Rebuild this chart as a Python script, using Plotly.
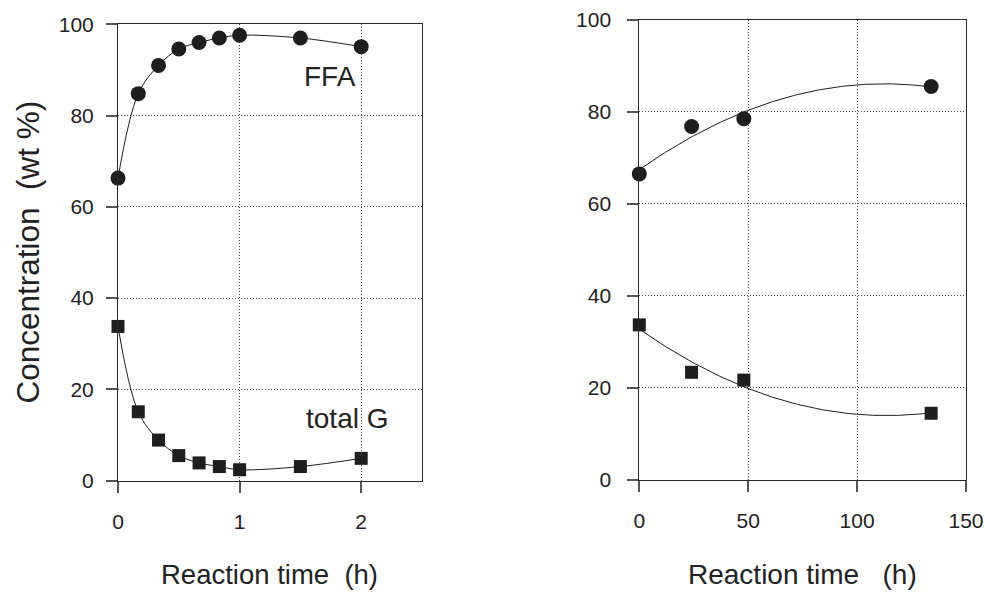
import numpy as np
import plotly.graph_objects as go

# ---- data ----
time_short = [0, 1/6, 1/3, 0.5, 2/3, 5/6, 1.0, 1.5, 2.0]
ffa_short = [66.3, 84.8, 91.0, 94.6, 96.0, 97.0, 97.6, 97.0, 95.1]
totalg_short = [33.8, 15.1, 8.9, 5.5, 3.9, 3.1, 2.4, 3.1, 4.9]

time_long = [0, 24, 48, 134]
ffa_long = [66.5, 76.8, 78.5, 85.5]
totalg_long = [33.7, 23.4, 21.7, 14.5]

x_ticks_short = [0, 1, 2]
x_ticks_long = [0, 50, 100, 150]
y_ticks = [0, 20, 40, 60, 80, 100]

FONT = "Liberation Sans, Arial, Helvetica, sans-serif"
INK = "#1e1e1e"

# quadratic trend lines for the long-time panel (least squares fit of the points)
xs_long = np.linspace(min(time_long), max(time_long), 200)
ffa_fit = np.polyval(np.polyfit(time_long, ffa_long, 2), xs_long)
tg_fit = np.polyval(np.polyfit(time_long, totalg_long, 2), xs_long)

fig = go.Figure()

# left panel curves
for ys in (ffa_short, totalg_short):
    fig.add_trace(go.Scatter(x=time_short, y=ys, mode="lines",
                             line=dict(color=INK, width=1, shape="spline", smoothing=1.0),
                             xaxis="x", yaxis="y", hoverinfo="skip"))
fig.add_trace(go.Scatter(x=time_short, y=ffa_short, mode="markers",
                         marker=dict(symbol="circle", size=15, color=INK),
                         cliponaxis=False, xaxis="x", yaxis="y"))
fig.add_trace(go.Scatter(x=time_short, y=totalg_short, mode="markers",
                         marker=dict(symbol="square", size=13, color=INK),
                         cliponaxis=False, xaxis="x", yaxis="y"))

# right panel curves
for ys in (ffa_fit, tg_fit):
    fig.add_trace(go.Scatter(x=xs_long, y=ys, mode="lines",
                             line=dict(color=INK, width=1),
                             xaxis="x2", yaxis="y2", hoverinfo="skip"))
fig.add_trace(go.Scatter(x=time_long, y=ffa_long, mode="markers",
                         marker=dict(symbol="circle", size=15, color=INK),
                         cliponaxis=False, xaxis="x2", yaxis="y2"))
fig.add_trace(go.Scatter(x=time_long, y=totalg_long, mode="markers",
                         marker=dict(symbol="square", size=13, color=INK),
                         cliponaxis=False, xaxis="x2", yaxis="y2"))

axis_common = dict(
    showline=True, linecolor="#2a2a2a", linewidth=1, mirror=True,
    ticks="outside", ticklen=11, tickcolor="#555", tickwidth=1.5,
    showgrid=True, gridcolor="#444", griddash="1px,2px", gridwidth=1,
    zeroline=False, tickfont=dict(size=21, color="#222", family=FONT),
    fixedrange=True, automargin=False,
)

W, H = 985, 592
fig.update_layout(
    width=W, height=H,
    margin=dict(l=0, r=0, t=0, b=0, autoexpand=False),
    paper_bgcolor="white", plot_bgcolor="white",
    showlegend=False,
    font=dict(family=FONT, color="#222"),
    xaxis=dict(domain=[118 / W, 422 / W], range=[0, 2.5], tickvals=x_ticks_short,
               anchor="y", ticklabelstandoff=11, **axis_common),
    yaxis=dict(domain=[1 - 480.7 / H, 1 - 24.3 / H], range=[0, 100], tickvals=y_ticks,
               anchor="x", ticklabelstandoff=8, **axis_common),
    xaxis2=dict(domain=[639.3 / W, 966 / W], range=[0, 150], tickvals=x_ticks_long,
                anchor="y2", ticklabelstandoff=11, **axis_common),
    yaxis2=dict(domain=[1 - 480 / H, 1 - 19.7 / H], range=[0, 100], tickvals=y_ticks,
                anchor="x2", ticklabelstandoff=12, **axis_common),
    annotations=[
        dict(text="Reaction time\u00a0\u00a0(h)", xref="paper", yref="paper",
             x=269 / W, y=1 - 574.5 / H, showarrow=False,
             font=dict(size=27.5, family=FONT, color="#222"), xanchor="center", yanchor="middle"),
        dict(text="Reaction time\u00a0\u00a0\u00a0(h)", xref="paper", yref="paper",
             x=802 / W, y=1 - 574.5 / H, showarrow=False,
             font=dict(size=28, family=FONT, color="#222"), xanchor="center", yanchor="middle"),
        dict(text="Concentration\u00a0\u00a0(wt %)", xref="paper", yref="paper",
             x=27 / W, y=1 - 252.5 / H, showarrow=False, textangle=-90,
             font=dict(size=31.5, family=FONT, color="#222"), xanchor="center", yanchor="middle"),
        dict(text="FFA", xref="x", yref="y", x=1.743, y=88.6, showarrow=False,
             font=dict(size=28, family=FONT, color="#222"), xanchor="center", yanchor="middle"),
        dict(text="total G", xref="x", yref="y", x=1.887, y=13.7, showarrow=False,
             font=dict(size=28, family=FONT, color="#222"), xanchor="center", yanchor="middle"),
    ],
)

fig.write_html("out.html", config={"displayModeBar": False},
               post_script="document.body.style.margin='0';document.body.style.overflow='hidden';")
